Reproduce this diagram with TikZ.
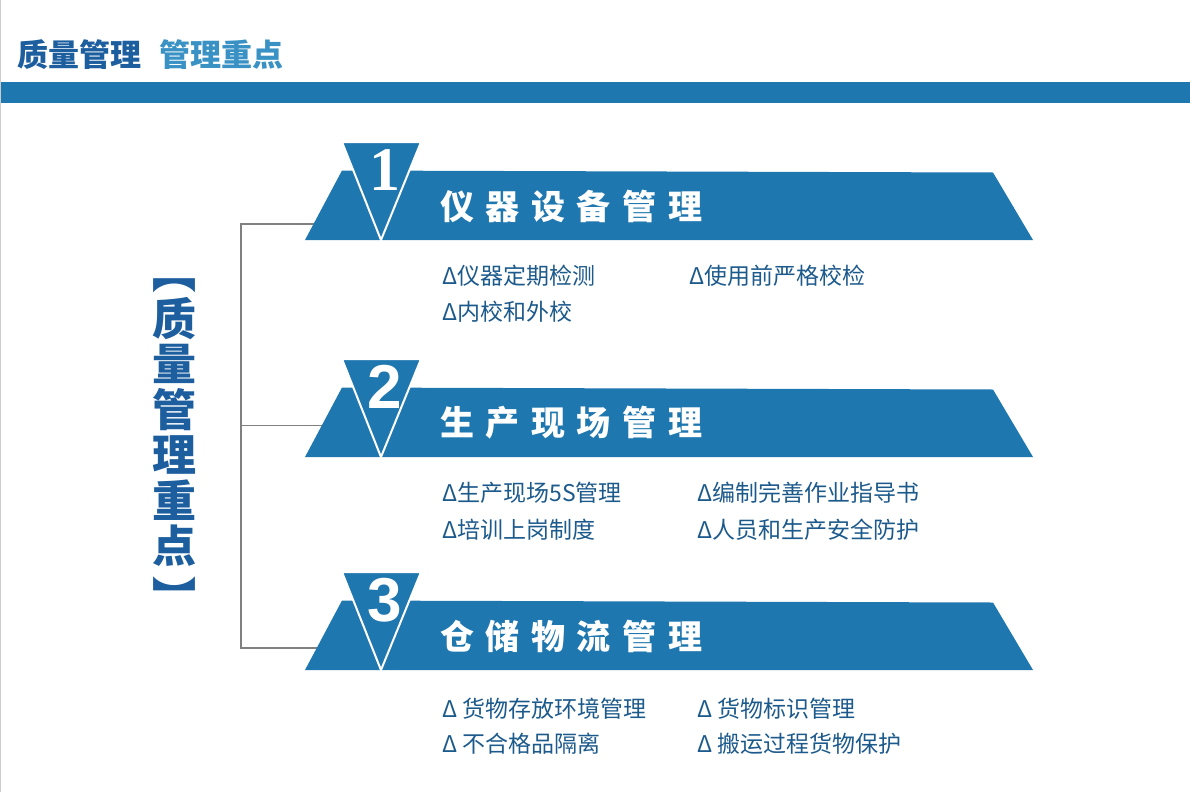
\documentclass[tikz,border=0pt]{standalone}
\usepackage{fontspec}
\setmainfont{Noto Sans CJK SC}
\newfontfamily\numserif{Liberation Serif}
\newfontfamily\numsans{Liberation Sans}
\usetikzlibrary{positioning}

\definecolor{bandblue}{HTML}{1F77B0}
\definecolor{headblue}{HTML}{1C5E9E}
\definecolor{subblue}{HTML}{3A91C4}
\definecolor{itemblue}{HTML}{1D5A8C}

\begin{document}
\begin{tikzpicture}[x=1pt,y=-1pt,
  band/.style={fill=bandblue},
  marker/.style={fill=bandblue,draw=white,line width=2pt,line join=miter},
  tree/.style={draw=gray,line width=1.5pt},
  headtext/.style={anchor=west,inner sep=0pt,font=\fontsize{31}{31}\selectfont\bfseries},
  vtitle/.style={inner sep=0pt,text=headblue,font=\fontsize{44}{44}\selectfont\bfseries},
  number/.style={inner sep=0pt,text=white,font=\fontsize{62}{62}\selectfont\bfseries},
  heading/.style={anchor=west,inner sep=0pt,text=white,
    font=\fontsize{34}{34}\selectfont\bfseries\addfontfeature{LetterSpace=34}},
  item/.style={anchor=west,inner sep=0pt,text=itemblue,font=\fontsize{23}{23}\selectfont}]
  \useasboundingbox (0,0) rectangle (1190,792);

  % header
  \draw[gray!40] (0.5,0) -- (0.5,792);
  \fill[band] (1,82) rectangle (1190,103);
  \node[headtext,text=headblue] (head) at (17,55) {质量管理};
  \node[headtext,text=subblue,right=18pt of head] (headsub) {管理重点};

  % vertical title
  \node[vtitle] (vopen) at (174,285.5) {︻};
  \foreach \c [count=\i from 0] in {质,量,管,理,重,点}
    \node[vtitle] (v\i) at (174,318.5+45.5*\i) {\c};
  \node[vtitle] (vclose) at (174,596) {︼};

  % bracket tree
  \coordinate (t1) at (241,224);
  \coordinate (t2) at (241,425.5);
  \coordinate (t3) at (241,648);
  \coordinate (j1) at (330,224);
  \coordinate (j2) at (335,425.5);
  \coordinate (j3) at (330,648);
  \draw[tree] (j1) -- (t1) -- (t3) -- (j3);
  \draw[tree] (t2) -- (j2);

  % banners
  \foreach \n/\dy/\nf/\ttl in {1/0/\numserif/仪器设备管理,
      2/217/\numsans/生产现场管理,3/430/\numsans/仓储物流管理}{
    \begin{scope}[shift={(0,\dy)}]
      \fill[band] (305,240) -- (342,170.5) -- (993,172.5) -- (1033,240) -- cycle;
      \filldraw[marker] (342,142) -- (421,142) -- (381,240) -- cycle;
      \node[number] (num\n) at (385,170) {\nf\n};
      \node[heading] (title\n) at (440,206) {\ttl};
    \end{scope}}

  % items
  \node[item] (a1) at (442,276) {Δ仪器定期检测};
  \node[item] (a2) at (689,276) {Δ使用前严格校检};
  \node[item] (a3) at (442,312) {Δ内校和外校};
  \node[item] (b1) at (442,493) {Δ生产现场5S管理};
  \node[item] (b2) at (697,493) {Δ编制完善作业指导书};
  \node[item] (b3) at (442,530) {Δ培训上岗制度};
  \node[item] (b4) at (697,530) {Δ人员和生产安全防护};
  \node[item] (c1) at (442,709) {Δ 货物存放环境管理};
  \node[item] (c2) at (697,709) {Δ 货物标识管理};
  \node[item] (c3) at (442,744) {Δ 不合格品隔离};
  \node[item] (c4) at (697,744) {Δ 搬运过程货物保护};
\end{tikzpicture}
\end{document}
